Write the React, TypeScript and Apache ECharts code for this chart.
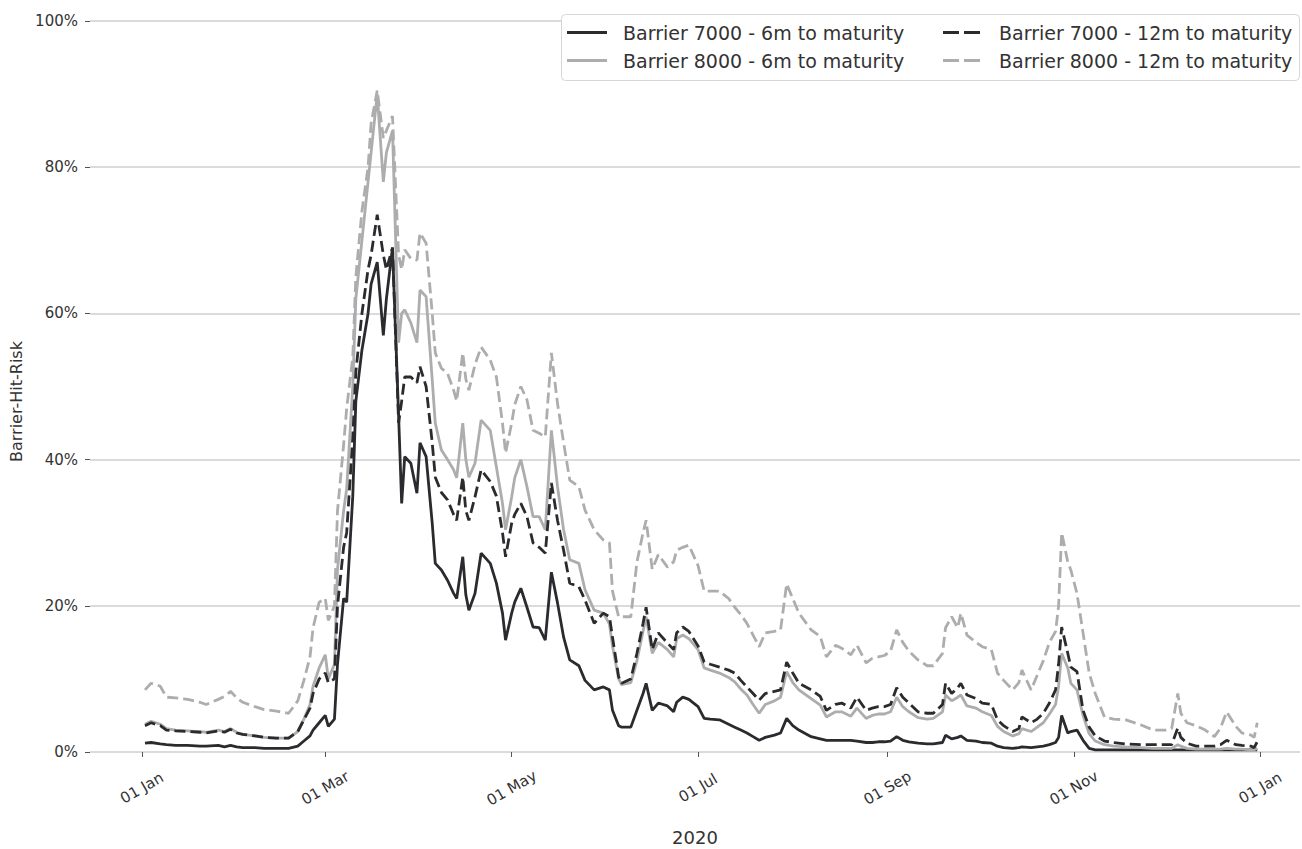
import React, { useEffect, useRef } from "react";
import * as echarts from "echarts";

// ---- data (values in %) ----
const dates = [
  "2020-01-02","2020-01-04","2020-01-07","2020-01-09","2020-01-12","2020-01-16","2020-01-20","2020-01-22","2020-01-26","2020-01-28",
  "2020-01-30","2020-02-01","2020-02-03","2020-02-07","2020-02-10","2020-02-14","2020-02-18","2020-02-21","2020-02-23","2020-02-25",
  "2020-02-26","2020-02-28","2020-03-01","2020-03-02","2020-03-04","2020-03-05","2020-03-07","2020-03-08","2020-03-10","2020-03-11",
  "2020-03-13","2020-03-15","2020-03-16","2020-03-18","2020-03-20","2020-03-21","2020-03-23","2020-03-25","2020-03-26","2020-03-27",
  "2020-03-29","2020-03-31","2020-04-01","2020-04-03","2020-04-05","2020-04-06","2020-04-08","2020-04-10","2020-04-12","2020-04-13",
  "2020-04-15","2020-04-16","2020-04-17","2020-04-19","2020-04-21","2020-04-24","2020-04-26","2020-04-28","2020-04-29","2020-05-01",
  "2020-05-02","2020-05-04","2020-05-06","2020-05-08","2020-05-10","2020-05-12","2020-05-14","2020-05-16","2020-05-18","2020-05-20",
  "2020-05-23","2020-05-25","2020-05-28","2020-05-31","2020-06-02","2020-06-03","2020-06-05","2020-06-06","2020-06-09","2020-06-11",
  "2020-06-13","2020-06-14","2020-06-16","2020-06-18","2020-06-21","2020-06-23","2020-06-24","2020-06-26","2020-06-28","2020-07-01",
  "2020-07-03","2020-07-05","2020-07-08","2020-07-11","2020-07-13","2020-07-15","2020-07-17","2020-07-19","2020-07-21","2020-07-23",
  "2020-07-26","2020-07-28","2020-07-30","2020-08-01","2020-08-03","2020-08-07","2020-08-10","2020-08-12","2020-08-15","2020-08-17",
  "2020-08-20","2020-08-22","2020-08-25","2020-08-27","2020-08-29","2020-08-31","2020-09-02","2020-09-04","2020-09-06","2020-09-08",
  "2020-09-11","2020-09-14","2020-09-16","2020-09-19","2020-09-20","2020-09-22","2020-09-24","2020-09-25","2020-09-27","2020-09-30",
  "2020-10-02","2020-10-05","2020-10-07","2020-10-09","2020-10-12","2020-10-14","2020-10-15","2020-10-18","2020-10-20","2020-10-22",
  "2020-10-24","2020-10-26","2020-10-27","2020-10-28","2020-10-30","2020-10-31","2020-11-02","2020-11-04","2020-11-06","2020-11-08",
  "2020-11-11","2020-11-14","2020-11-18","2020-11-23","2020-11-27","2020-12-01","2020-12-03","2020-12-05","2020-12-06","2020-12-08",
  "2020-12-11","2020-12-14","2020-12-17","2020-12-19","2020-12-21","2020-12-24","2020-12-26","2020-12-29","2020-12-30","2020-12-31",
];

const barrier7000_6m = [
  1.2,1.3,1.1,1.0,0.9,0.9,0.8,0.8,0.9,0.7,
  0.9,0.7,0.6,0.6,0.5,0.5,0.5,0.8,1.5,2.2,
  3.0,4.0,5.0,3.5,4.5,12,21,20.5,35,48,
  55,60,64,67,57,62,69,46,34,40.4,
  39.5,35.4,42.3,40.4,31.3,25.8,24.9,23.5,21.7,21,
  26.7,21.5,19.4,21.7,27.2,25.8,23.1,19,15.3,19,
  20.5,22.4,19.8,17.1,17,15.3,24.6,20.4,15.7,12.6,
  11.8,9.8,8.5,8.9,8.5,5.7,3.6,3.4,3.4,5.7,
  8,9.4,5.7,6.7,6.3,5.5,6.8,7.5,7.2,6.2,
  4.6,4.5,4.4,3.8,3.4,3.0,2.6,2.1,1.6,2.0,
  2.3,2.6,4.6,3.6,3.0,2.1,1.8,1.6,1.6,1.6,
  1.6,1.5,1.3,1.3,1.4,1.4,1.5,2.1,1.6,1.4,
  1.2,1.1,1.1,1.3,2.3,1.8,2.0,2.2,1.6,1.5,
  1.3,1.2,0.8,0.6,0.5,0.6,0.7,0.6,0.7,0.8,
  1.0,1.3,2.0,5.0,2.6,2.8,3.0,1.6,0.5,0.3,
  0.3,0.3,0.3,0.3,0.3,0.3,0.3,0.3,0.3,0.3,
  0.3,0.3,0.3,0.3,0.3,0.3,0.3,0.3,0.3,0.3,
];

const barrier8000_6m = [
  3.8,4.2,3.8,3.2,3.0,2.9,2.8,2.7,3.0,2.8,
  3.2,2.7,2.4,2.2,2.0,1.9,1.9,2.8,4.5,6.5,
  9.0,11.5,13.3,10.0,12,25,33,36,50,62,
  70,78,82,90,78,82,85,56,60,60.5,
  58.7,56,63.2,62.3,50.9,45,41.3,40,38.6,37.5,
  45,40,37.6,39.5,45.4,44,39,34,30.4,34.9,
  37.5,40,36.3,32.2,32.2,30.4,44,36.3,30.4,26.3,
  25.8,22.2,19.4,19,17.5,14.5,10,9.2,9.5,12.5,
  16.5,18.5,13.5,15,14,13,15.5,16,15.5,14,
  11.5,11.2,10.8,10.2,9.6,8.6,7.8,6.5,5.3,6.5,
  7,7.5,11,9.5,8.5,7.3,6.4,4.8,5.5,5.5,
  4.9,6.0,4.6,5.0,5.2,5.2,5.5,7.5,6.2,5.5,
  4.7,4.5,4.6,5.5,7.8,7.0,7.5,7.8,6.3,6.0,
  5.5,5.0,3.5,2.8,2.2,2.5,3.2,2.8,3.4,4.0,
  5.2,6.5,9.0,13.5,11.5,9.4,8.5,5.0,2.5,1.5,
  1.0,0.8,0.7,0.6,0.5,0.5,0.5,1.0,0.8,0.5,
  0.4,0.4,0.4,0.4,0.5,0.4,0.4,0.3,0.3,0.5,
];

const barrier7000_12m = [
  3.6,4.0,3.6,3.0,2.9,2.8,2.7,2.6,2.9,2.7,
  3.1,2.6,2.4,2.2,2.0,1.9,1.9,2.8,4.4,6.0,
  8.0,10.0,10.8,9.5,10,20,28,30,43,52,
  60,66,68,73.5,68,66,69,45,48,51.3,
  51.3,50.5,52.7,50,42.3,37.6,35.5,34.5,32.5,31.7,
  37.6,33,31.7,34.9,38.6,37,35,30,26.7,31.3,
  32.5,34,32.2,28.6,28,27.2,36.8,31.7,27.6,23.1,
  22.6,20.8,17.6,19,18.5,15.7,10.3,9.4,10,13.5,
  17.6,19.8,14,16.3,14.9,14,16.3,17.1,16.5,14.5,
  12.3,12,11.6,11.2,10.8,9.8,8.9,8,7.1,8,
  8.3,8.5,12.3,10.8,9.4,8.5,7.6,5.7,6.5,6.7,
  6.0,7.5,5.7,6.0,6.2,6.2,6.5,8.8,7.5,6.7,
  5.5,5.3,5.3,6.5,9.4,8.0,8.8,9.4,7.8,7.3,
  6.7,6.5,4.4,3.6,2.8,3.2,4.8,4.0,4.5,5.3,
  6.7,8.5,12,17.1,13.5,11.6,11.0,5.7,3.4,2.2,
  1.5,1.3,1.1,1.0,1.0,1.0,1.0,3.3,2.0,1.2,
  0.8,0.8,0.8,1.0,1.6,1.0,0.9,0.8,0.6,1.4,
];

const barrier8000_12m = [
  8.5,9.4,9.0,7.5,7.4,7.2,6.8,6.5,7.2,7.6,
  8.3,7.4,6.8,6.2,5.8,5.6,5.3,7.0,9.8,13.0,
  17.0,20.5,21.0,18.0,20,33,42,47,54,65,
  74,80,86,90.5,84,85,87,68,66,68.7,
  67.5,67.3,71,69.6,60,54.6,52.5,51.8,49.5,48,
  54.6,51,49.5,53,55.4,53.6,51.3,45,40.9,45,
  47.5,50,48.2,44,43.6,43.1,54.6,47.7,42.3,37.2,
  36.3,33.1,30.4,29,28.6,22,18.5,18.5,18.5,26,
  30,31.7,25,27,25.3,26,27.6,28,28.3,25.5,
  22,22,22,21,19.8,18.8,17.6,16,14.4,16.3,
  16.5,16.7,23,21,19,16.7,15.8,13.0,14.6,14.2,
  13.3,14.6,12.2,12.8,13.0,13.2,13.8,16.7,15.0,13.8,
  12.6,11.8,11.8,13.5,17.0,18.5,17.0,19.0,16.0,15.0,
  14.4,14.0,10.8,9.8,8.5,9.5,11.2,8.5,10.5,12.5,
  15.0,16.5,20,30.0,26.0,24.9,21.7,16.3,10.8,8.0,
  4.8,4.5,4.4,3.7,3.0,3.0,3.2,8.0,5.3,4.0,
  3.6,3.0,2.1,3.3,5.5,3.5,2.6,2.3,2.0,4.0,
];

const seriesNames = [
  "Barrier 7000 - 6m to maturity",
  "Barrier 8000 - 6m to maturity",
  "Barrier 7000 - 12m to maturity",
  "Barrier 8000 - 12m to maturity",
];

const tickDates = ["2020-01-01", "2020-03-01", "2020-05-01", "2020-07-01", "2020-09-01", "2020-11-01", "2021-01-01"];
const monthNames = ["Jan", "Feb", "Mar", "Apr", "May", "Jun", "Jul", "Aug", "Sep", "Oct", "Nov", "Dec"];
const axisStart = "2019-12-15";
const axisEnd = "2021-01-14";
const yMin = 0;
const yMax = 100;
const yInterval = 20;
const xAxisTitle = "2020";
const yAxisTitle = "Barrier-Hit-Risk";

const DARK = "#2b2b2f";
const LIGHT = "#adadad";
const FONT = "DejaVu Sans";
const SOLID_ICON = "path://M0,0H40V3H0Z";
const DASH_ICON = "path://M0,0H16V3H0Z M21,0H37V3H21Z M40,0H40V3H40Z";

function buildDays(start: string, end: string): string[] {
  const out: string[] = [];
  let t = Date.parse(start + "T00:00:00Z");
  const e = Date.parse(end + "T00:00:00Z");
  while (t <= e) {
    out.push(new Date(t).toISOString().slice(0, 10));
    t += 86400000;
  }
  return out;
}

export default function App() {
  const ref = useRef<HTMLDivElement>(null);

  useEffect(() => {
    if (!ref.current) return;
    const chart = echarts.init(ref.current, null, { renderer: "svg" });
    const days = buildDays(axisStart, axisEnd);
    const tickSet = new Set(tickDates);
    const isTick = (_i: number, v: string) => tickSet.has(v);

    const valueSets = [barrier7000_6m, barrier8000_6m, barrier7000_12m, barrier8000_12m];
    const colors = [DARK, LIGHT, DARK, LIGHT];
    const dashed = [false, false, true, true];

    const series = valueSets.map((vals, k) => ({
      type: "line",
      name: seriesNames[k],
      data: dates.map((d, i) => [d, vals[i]]),
      showSymbol: false,
      symbol: "none",
      color: colors[k],
      lineStyle: {
        color: colors[k],
        width: 2.8,
        type: dashed[k] ? [11, 5] : "solid",
      },
      emphasis: { disabled: true },
      z: 2 + k,
    }));

    const legendText = { fontFamily: FONT, fontSize: 19, color: "#333", padding: [0, 0, 0, 11] };
    const legendBase = {
      orient: "vertical",
      top: 18,
      itemWidth: 40,
      itemHeight: 3,
      itemGap: 9,
      z: 20,
      textStyle: legendText,
      selectedMode: false,
    };

    chart.setOption({
      animation: false,
      backgroundColor: "#ffffff",
      textStyle: { fontFamily: FONT },
      grid: { left: 90, right: 2, top: 21, bottom: 97, containLabel: false, outerBoundsMode: "none" },
      graphic: [
        {
          type: "rect",
          left: 561,
          top: 14,
          z: 10,
          shape: { width: 738, height: 66, r: 4 },
          style: { fill: "#ffffff", stroke: "#d6d6d6", lineWidth: 1 },
        },
      ],
      legend: [
        {
          ...legendBase,
          left: 562,
          data: [
            { name: seriesNames[0], icon: SOLID_ICON },
            { name: seriesNames[1], icon: SOLID_ICON },
          ],
        },
        {
          ...legendBase,
          left: 938,
          data: [
            { name: seriesNames[2], icon: DASH_ICON },
            { name: seriesNames[3], icon: DASH_ICON },
          ],
        },
      ],
      xAxis: {
        type: "category",
        data: days,
        boundaryGap: false,
        offset: 13,
        axisLine: { show: true, lineStyle: { color: "rgba(0,0,0,0)" } },
        axisTick: { show: true, interval: isTick, length: 5, lineStyle: { color: "#555", width: 1 } },
        axisLabel: {
          interval: isTick,
          rotate: 30,
          align: "center",
          verticalAlign: "middle",
          margin: 23,
          fontSize: 15,
          color: "#333",
          fontFamily: FONT,
          formatter: (v: string) => v.slice(8, 10) + " " + monthNames[parseInt(v.slice(5, 7), 10) - 1],
        },
        splitLine: { show: false },
        name: xAxisTitle,
        nameLocation: "middle",
        nameGap: 63,
        nameTextStyle: { fontSize: 18, color: "#333", fontFamily: FONT },
      },
      yAxis: {
        type: "value",
        min: yMin,
        max: yMax,
        interval: yInterval,
        axisLine: { show: true, lineStyle: { color: "rgba(0,0,0,0)" } },
        axisTick: { show: true, length: 5, lineStyle: { color: "#555", width: 1 } },
        axisLabel: {
          formatter: "{value}%",
          fontSize: 15,
          color: "#333",
          margin: 12,
          fontFamily: FONT,
        },
        splitLine: { lineStyle: { color: "#cfcfcf", width: 1.5 } },
        name: yAxisTitle,
        nameLocation: "middle",
        nameGap: 64,
        nameTextStyle: { fontSize: 16, color: "#333", fontFamily: FONT, padding: [0, 30, 0, 0] },
      },
      series,
    });

    return () => chart.dispose();
  }, []);

  return (
    <div
      ref={ref}
      style={{ position: "fixed", left: 0, top: 0, width: 1302, height: 849, background: "#fff" }}
    />
  );
}
